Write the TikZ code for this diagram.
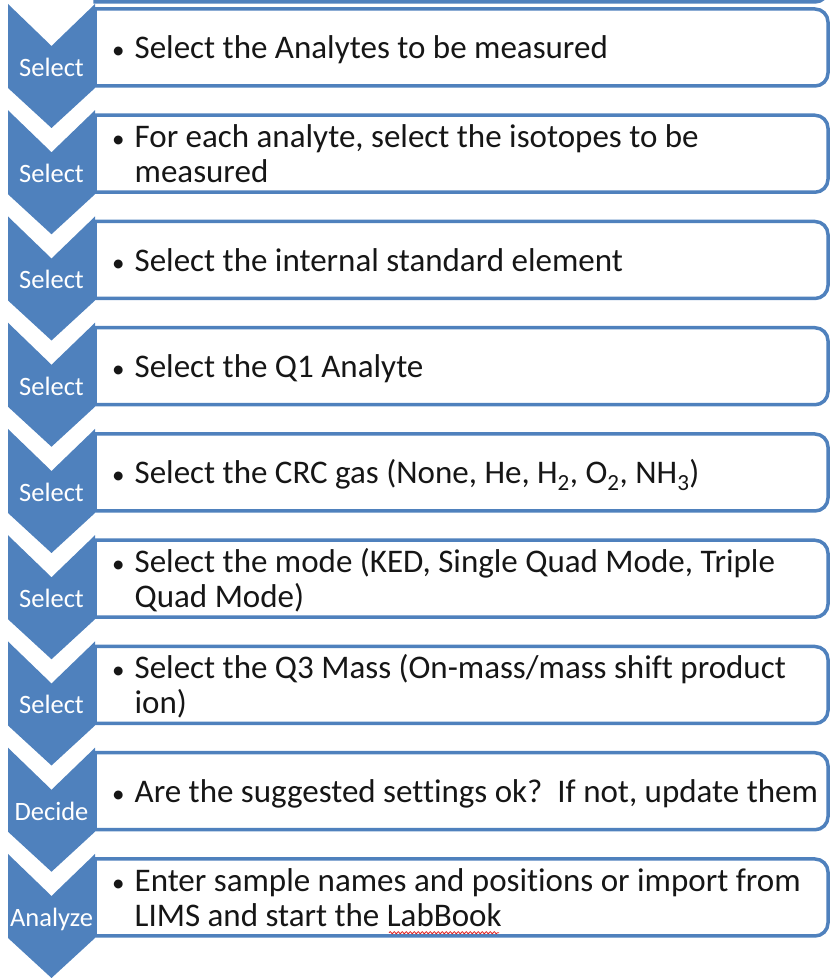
\documentclass[tikz,border=0pt]{standalone}
\usepackage{fontspec}
\setmainfont{Carlito}[Ligatures=NoCommon]
\usepackage{tikz}
\usetikzlibrary{decorations.pathmorphing}
\definecolor{Azul}{HTML}{4F81BD}
\definecolor{Tinta}{HTML}{161616}
\definecolor{Onda}{HTML}{E01E1E}
\newcommand{\punto}[1]{\begin{tabular}{@{}l@{\hspace{10pt}}l@{}}{\fontsize{25}{35}\selectfont\textbullet} & #1\end{tabular}}

\begin{document}
\begin{tikzpicture}[
  x=1pt,y=1pt,
  etiq/.style={text=white,font=\fontsize{26.5}{30}\selectfont,inner sep=0pt,anchor=base},
  paso/.style={anchor=west,text=Tinta,inner sep=0pt,font=\fontsize{33}{35}\selectfont},
  onda/.style={Onda,line width=0.8pt,decorate,decoration={snake,amplitude=1.1pt,segment length=4pt}},
  chevron/.pic={\fill[Azul] (-43.5,0) -- (0,-42) -- (43.5,0) -- (43.5,-84) -- (0,-124) -- (-43.5,-84) -- cycle;},
  caja/.pic={\draw[Azul,line width=3.5pt,fill=white] (0,0) -- (720,0)
    arc[start angle=90,end angle=0,radius=13pt] -- (733,-64)
    arc[start angle=0,end angle=-90,radius=13pt] -- (0,-77) -- cycle;}
]
  \clip (0,0) rectangle (830,978);

  % cajas
  \pic at (95,1053) {caja};
  \pic at (95,969) {caja};
  \pic at (95,862.75) {caja};
  \pic at (95,756.5) {caja};
  \pic at (95,650.25) {caja};
  \pic at (95,544) {caja};
  \pic at (95,437.75) {caja};
  \pic at (95,331.5) {caja};
  \pic at (95,225.25) {caja};
  \pic at (95,119) {caja};

  % chevrons
  \pic at (51.5,974) {chevron};
  \pic at (51.5,867.75) {chevron};
  \pic at (51.5,761.5) {chevron};
  \pic at (51.5,655.25) {chevron};
  \pic at (51.5,549) {chevron};
  \pic at (51.5,442.75) {chevron};
  \pic at (51.5,336.5) {chevron};
  \pic at (51.5,230.25) {chevron};
  \pic at (51.5,124) {chevron};

  \node[etiq] (ch1) at (51.5,901.5) {Select};
  \node[etiq] (ch2) at (51.5,795.25) {Select};
  \node[etiq] (ch3) at (51.5,689) {Select};
  \node[etiq] (ch4) at (51.5,582.75) {Select};
  \node[etiq] (ch5) at (51.5,476.5) {Select};
  \node[etiq] (ch6) at (51.5,370.25) {Select};
  \node[etiq] (ch7) at (51.5,264) {Select};
  \node[etiq] (ch8) at (51.5,157.75) {Decide};
  \node[etiq] (ch9) at (51.5,51.5) {Analyze};

  % textos
  \node[paso] (analytes) at (112,926) {\punto{Select the Analytes to be measured}};
  \node[paso] (isotopes) at (112,819.75)
    {\punto{For each analyte, select the isotopes to be\\ & measured}};
  \node[paso] (internal) at (112,713.5) {\punto{Select the internal standard element}};
  \node[paso] (qone) at (112,607.25) {\punto{Select the Q1 Analyte}};
  \node[paso] (crcgas) at (112,501)
    {\punto{Select the CRC gas (None, He, H\textsubscript{2}, O\textsubscript{2}, NH\textsubscript{3})}};
  \node[paso] (mode) at (112,394.75)
    {\punto{Select the mode (KED, Single Quad Mode, Triple\\ & Quad Mode)}};
  \node[paso] (qthree) at (112,288.5)
    {\punto{Select the Q3 Mass (On-mass/mass shift product\\ & ion)}};
  \node[paso] (settings) at (112,182.25)
    {\punto{Are the suggested settings ok?\ \ If not, update them}};
  \node[paso] (samples) at (112,76)
    {\punto{Enter sample names and positions or import from\\ & LIMS and start the LabBook}};
  \draw[onda] ([xshift=277pt,yshift=4.5pt]samples.south west) -- ++(110,0);
\end{tikzpicture}
\end{document}
